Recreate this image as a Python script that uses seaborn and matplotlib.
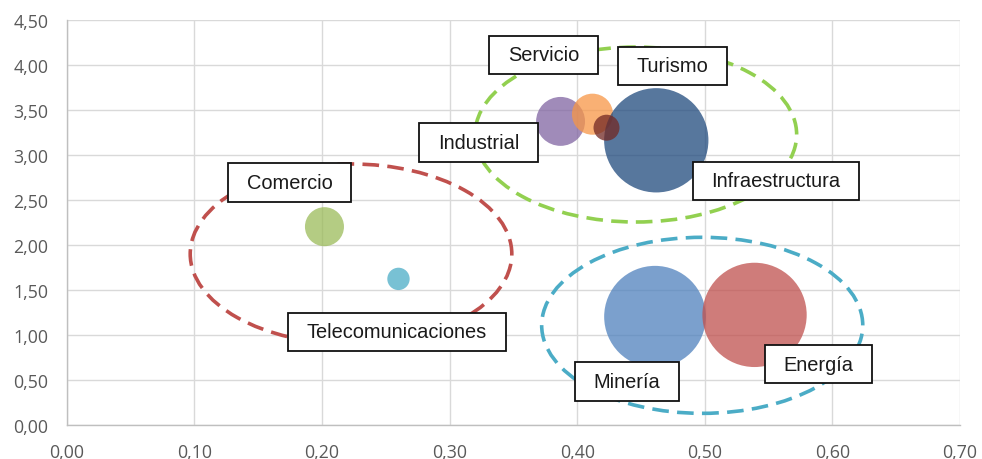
import matplotlib
matplotlib.use("Agg")
import matplotlib.pyplot as plt
from matplotlib.patches import Ellipse, Rectangle
from matplotlib.ticker import MultipleLocator, FuncFormatter
import seaborn as sns
import pandas as pd

# Sector bubbles: position (x, y) and bubble weight (area)
sectores = ["Comercio", "Telecomunicaciones", "Industrial", "Servicio",
            "Infraestructura", "Turismo", "Minería", "Energía"]
x_vals = [0.202, 0.260, 0.387, 0.412, 0.462, 0.423, 0.461, 0.539]
y_vals = [2.20, 1.62, 3.37, 3.45, 3.16, 3.30, 1.20, 1.22]
peso = [14.0, 4.6, 22.0, 15.5, 100.0, 6.2, 95.0, 100.0]
colores = ["#9BBB59", "#4BACC6", "#8064A2", "#F79646",
           "#1F497D", "#722824", "#4F81BD", "#C0504D"]

# Label anchor (centre of each label box)
etq_x = [0.1746, 0.2589, 0.3226, 0.3737, 0.5556, 0.4748, 0.4391, 0.589]
etq_y = [2.689, 1.030, 3.138, 4.108, 2.708, 3.986, 0.480, 0.674]

# Group ellipses: centre, width, height, colour
grp_cx = [0.2228, 0.446, 0.498]
grp_cy = [1.897, 3.224, 1.104]
grp_w = [0.252, 0.252, 0.2516]
grp_h = [2.00, 1.944, 1.956]
grp_col = ["#C0504D", "#92D050", "#4BACC6"]

df = pd.DataFrame({"sector": sectores, "x": x_vals, "y": y_vals, "peso": peso})

sns.set_theme(style="white")
plt.rcParams["font.family"] = ["Liberation Sans", "DejaVu Sans"]

fig = plt.figure(figsize=(9.82, 4.60), dpi=100)
ax = fig.add_axes([0.0679, 0.0746, 0.9097, 0.8804])

# bubble area proportional to weight (points^2 per unit of weight)
k = 56.4
sns.scatterplot(data=df, x="x", y="y", hue="sector", size="peso",
                palette=dict(zip(sectores, colores)),
                sizes=(k * min(peso), k * max(peso)),
                size_norm=(min(peso), max(peso)),
                alpha=0.75, linewidth=0, legend=False, ax=ax, zorder=3)

for cx, cy, w, h, c in zip(grp_cx, grp_cy, grp_w, grp_h, grp_col):
    ax.add_patch(Ellipse((cx, cy), w, h, fill=False, edgecolor=c,
                         lw=2.6, linestyle=(0, (4.6, 2.3)), zorder=4))

ax.set_xlim(0, 0.70)
ax.set_ylim(0, 4.50)
ax.xaxis.set_major_locator(MultipleLocator(0.10))
ax.yaxis.set_major_locator(MultipleLocator(0.50))
fmt = FuncFormatter(lambda v, _: f"{v:.2f}".replace(".", ","))
ax.xaxis.set_major_formatter(fmt)
ax.yaxis.set_major_formatter(fmt)
ax.grid(True, color="#d9d9d9", lw=1.0, zorder=0)
ax.set_axisbelow(True)
for s in ["top", "right"]:
    ax.spines[s].set_visible(False)
for s in ["left", "bottom"]:
    ax.spines[s].set_color("#bfbfbf")
    ax.spines[s].set_linewidth(1.0)
ax.tick_params(length=0, labelsize=12.8, labelcolor="#595959")
ax.tick_params(axis="y", pad=13)
ax.tick_params(axis="x", pad=13)
for lab in ax.get_xticklabels() + ax.get_yticklabels():
    lab.set_family(["Open Sans", "DejaVu Sans"])
ax.set_xlabel("")
ax.set_ylabel("")

# Boxed labels
textos = []
for s, tx, ty in zip(sectores, etq_x, etq_y):
    t = ax.text(tx, ty, s, ha="center", va="center", fontsize=14.4,
                color="#1a1a1a", zorder=6)
    textos.append(t)

fig.canvas.draw()
renderer = fig.canvas.get_renderer()
inv = ax.transData.inverted()
pad_x, box_h = 18.5, 38.5
for t in textos:
    bb = t.get_window_extent(renderer)
    cxp = (bb.x0 + bb.x1) / 2
    cyp = (bb.y0 + bb.y1) / 2
    w = bb.width + 2 * pad_x
    (x0, y0) = inv.transform((cxp - w / 2, cyp - box_h / 2))
    (x1, y1) = inv.transform((cxp + w / 2, cyp + box_h / 2))
    ax.add_patch(Rectangle((x0, y0), x1 - x0, y1 - y0, facecolor="white",
                           edgecolor="#111111", lw=1.3, zorder=5,
                           clip_on=False))

fig.savefig("out.png", dpi=100, facecolor="white")
